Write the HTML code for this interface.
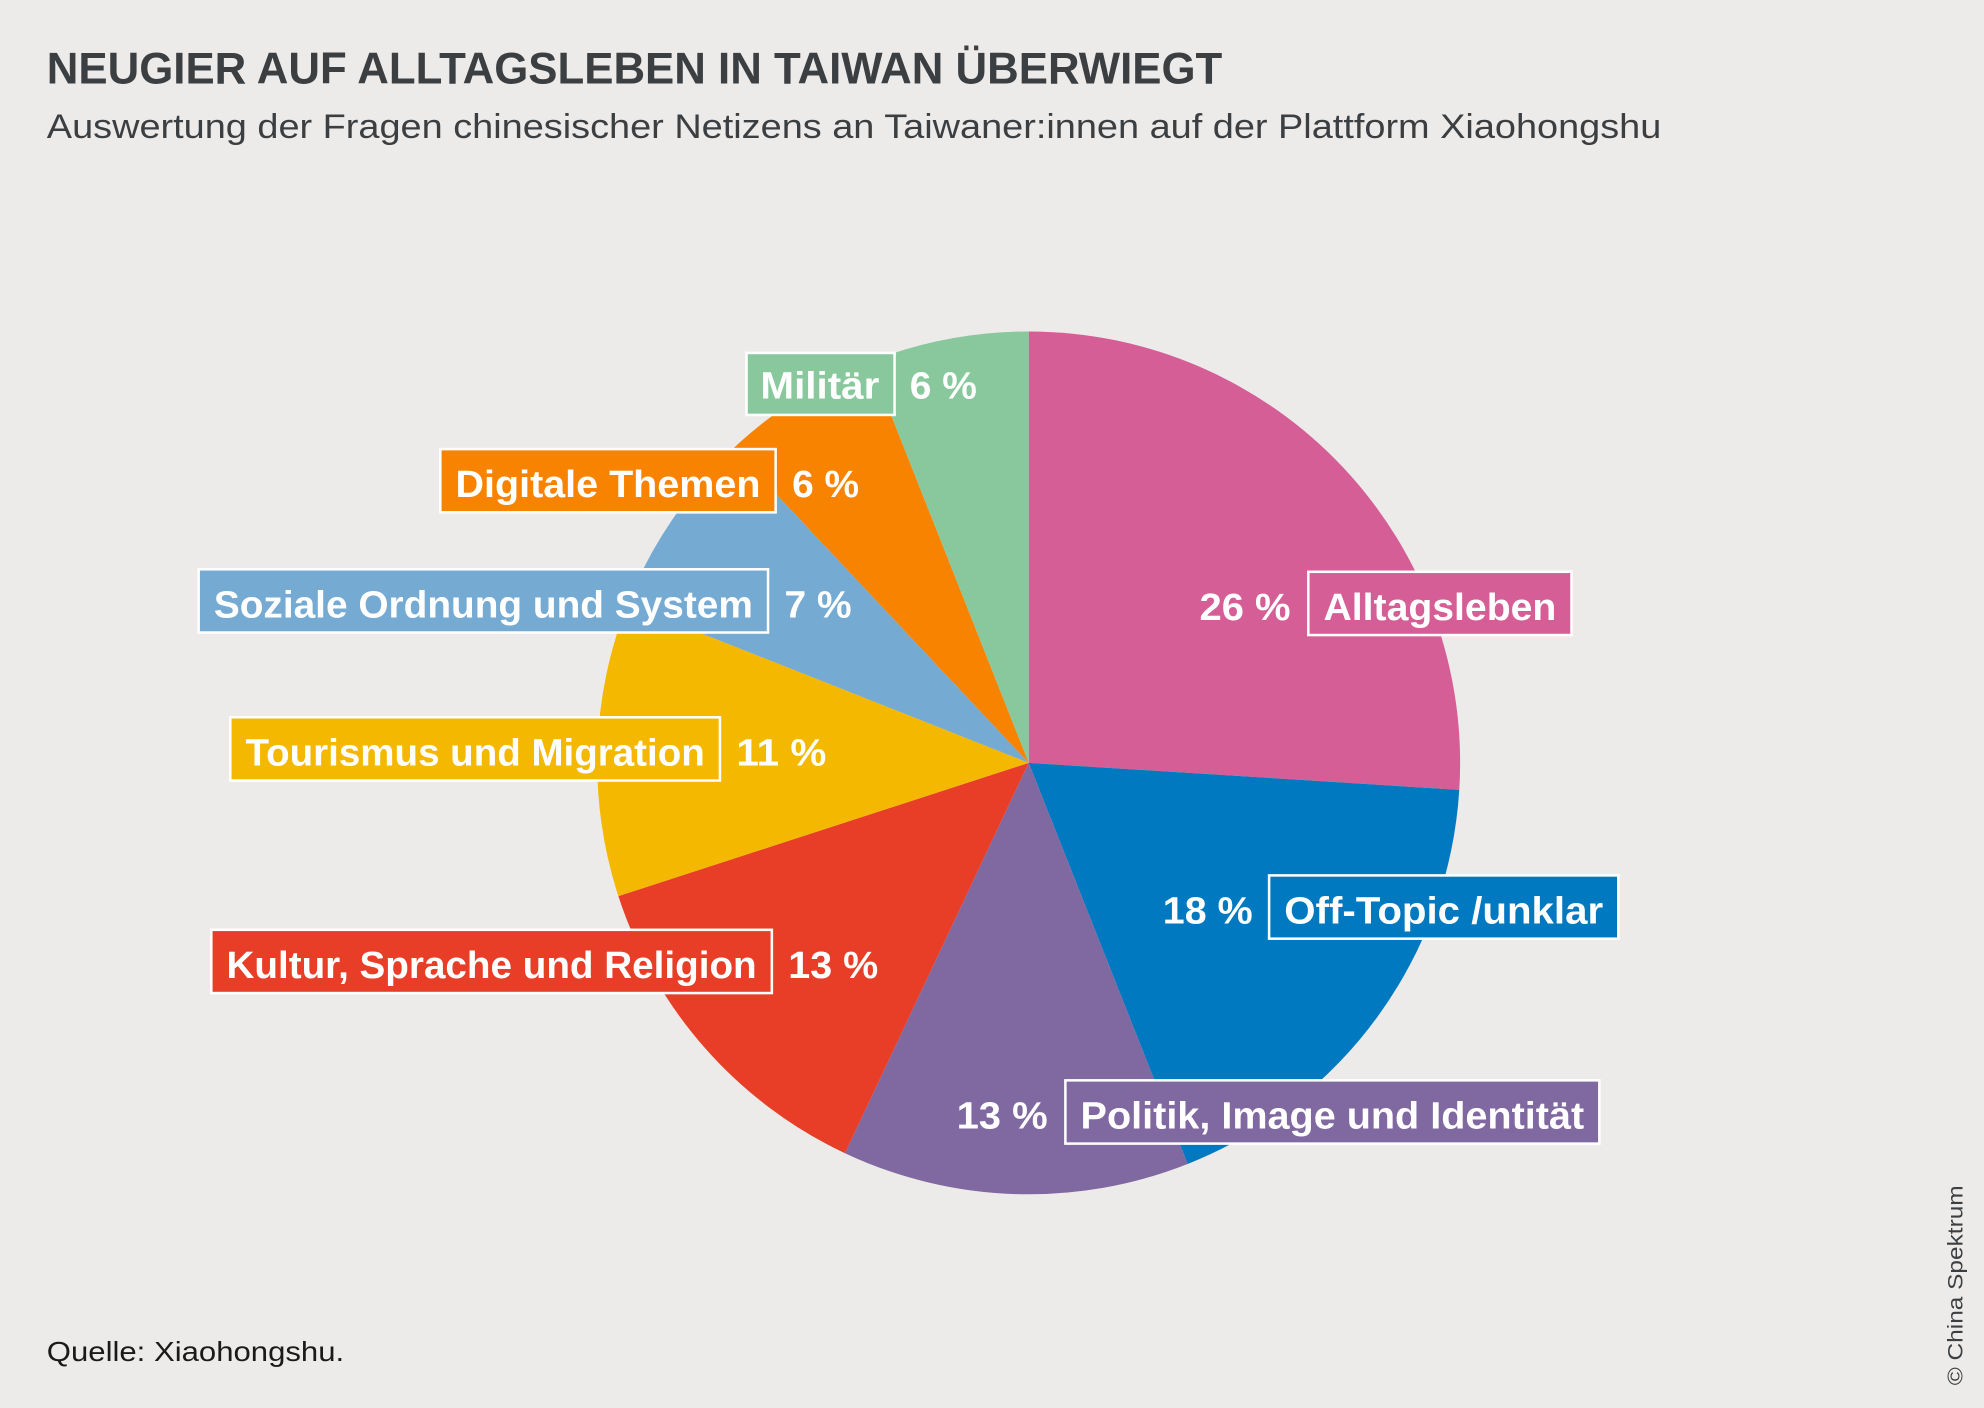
<!DOCTYPE html>
<html><head><meta charset="utf-8"><style>
html,body{margin:0;padding:0;background:#edebe9;}
svg{display:block}
text{font-family:"Liberation Sans",sans-serif}
.l{font-weight:bold;font-size:30px;fill:#fff}
</style></head><body>
<svg width="1984" height="1408" viewBox="0 0 1568 1113" preserveAspectRatio="none">
<rect width="1568" height="1113" fill="#edebe9"/>
<text x="37" y="66" font-size="35" font-weight="bold" fill="#3c3f42" textLength="929" lengthAdjust="spacingAndGlyphs">NEUGIER AUF ALLTAGSLEBEN IN TAIWAN ÜBERWIEGT</text>
<text x="37" y="109" font-size="27" fill="#3c3f42" textLength="1276" lengthAdjust="spacingAndGlyphs">Auswertung der Fragen chinesischer Netizens an Taiwaner:innen auf der Plattform Xiaohongshu</text>
<g>
<path d="M813,603 L813,262 A341,341 0 0 1 1153.3,624.4 Z" fill="#d45e95"/>
<path d="M813,603 L1153.3,624.4 A341,341 0 0 1 938.6,920.1 Z" fill="#0079c1"/>
<path d="M813,603 L938.6,920.1 A341,341 0 0 1 667.8,911.6 Z" fill="#8068a0"/>
<path d="M813,603 L667.8,911.6 A341,341 0 0 1 488.7,708.4 Z" fill="#e83e28"/>
<path d="M813,603 L488.7,708.4 A341,341 0 0 1 495.9,477.5 Z" fill="#f4b800"/>
<path d="M813,603 L495.9,477.5 A341,341 0 0 1 579.5,354.5 Z" fill="#75aad3"/>
<path d="M813,603 L579.5,354.5 A341,341 0 0 1 687.5,285.9 Z" fill="#f88300"/>
<path d="M813,603 L687.5,285.9 A341,341 0 0 1 813,262 Z" fill="#88c89c"/>
</g>
<g stroke="#fff" stroke-width="2">
<rect x="590" y="279" width="117" height="49" fill="#88c89c"/>
<rect x="348" y="355" width="265" height="50" fill="#f88300"/>
<rect x="157" y="450" width="450" height="50" fill="#75aad3"/>
<rect x="182" y="567" width="387" height="50" fill="#f4b800"/>
<rect x="167" y="735" width="443" height="50" fill="#e83e28"/>
<rect x="1034" y="452" width="208" height="50" fill="#d45e95"/>
<rect x="1003" y="692" width="276" height="50" fill="#0079c1"/>
<rect x="842" y="854" width="422" height="50" fill="#8068a0"/>
</g>
<g class="l">
<text class="l" x="601" y="315" textLength="94" lengthAdjust="spacingAndGlyphs">Militär</text>
<text class="l" x="719" y="315" textLength="53" lengthAdjust="spacingAndGlyphs">6 %</text>
<text class="l" x="360" y="393" textLength="241" lengthAdjust="spacingAndGlyphs">Digitale Themen</text>
<text class="l" x="626" y="393" textLength="53" lengthAdjust="spacingAndGlyphs">6 %</text>
<text class="l" x="169" y="488" textLength="426" lengthAdjust="spacingAndGlyphs">Soziale Ordnung und System</text>
<text class="l" x="620" y="488" textLength="53" lengthAdjust="spacingAndGlyphs">7 %</text>
<text class="l" x="194" y="605" textLength="363" lengthAdjust="spacingAndGlyphs">Tourismus und Migration</text>
<text class="l" x="582" y="605" textLength="71" lengthAdjust="spacingAndGlyphs">11 %</text>
<text class="l" x="179" y="773" textLength="419" lengthAdjust="spacingAndGlyphs">Kultur, Sprache und Religion</text>
<text class="l" x="623" y="773" textLength="71" lengthAdjust="spacingAndGlyphs">13 %</text>
<text class="l" x="1046" y="490" textLength="184" lengthAdjust="spacingAndGlyphs">Alltagsleben</text>
<text class="l" x="948" y="490" textLength="72" lengthAdjust="spacingAndGlyphs">26 %</text>
<text class="l" x="1015" y="730" textLength="252" lengthAdjust="spacingAndGlyphs">Off-Topic /unklar</text>
<text class="l" x="919" y="730" textLength="71" lengthAdjust="spacingAndGlyphs">18 %</text>
<text class="l" x="854" y="892" textLength="398" lengthAdjust="spacingAndGlyphs">Politik, Image und Identität</text>
<text class="l" x="756" y="892" textLength="72" lengthAdjust="spacingAndGlyphs">13 %</text>
</g>
<text x="37" y="1076" font-size="22" fill="#1a1a1a" textLength="235" lengthAdjust="spacingAndGlyphs">Quelle: Xiaohongshu.</text>
<text transform="translate(1551,1095) rotate(-90)" font-size="17" fill="#3c3f42" textLength="158" lengthAdjust="spacingAndGlyphs">© China Spektrum</text>
</svg>
</body></html>
